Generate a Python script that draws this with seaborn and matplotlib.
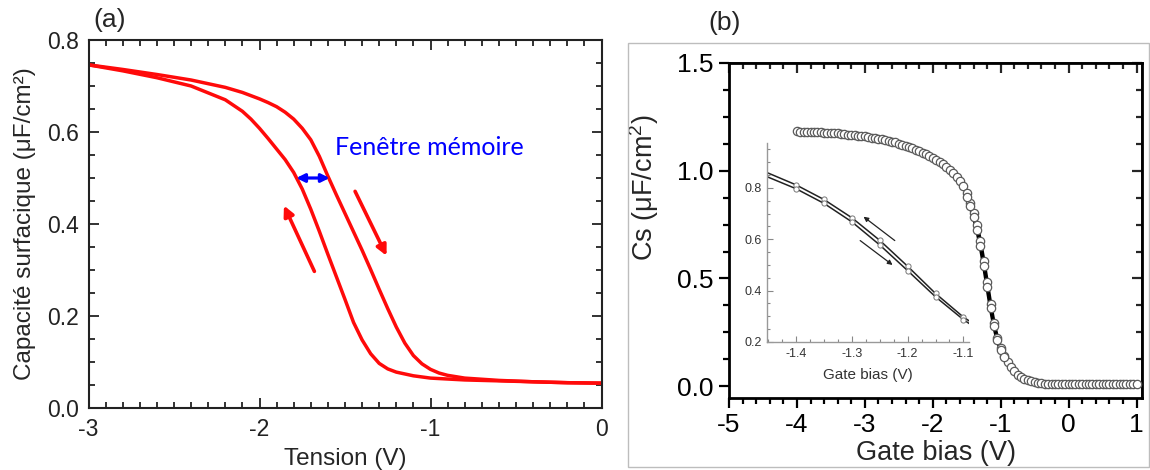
import numpy as np
import pandas as pd
import matplotlib
matplotlib.use("Agg")
import matplotlib.pyplot as plt
import seaborn as sns
from matplotlib.ticker import MultipleLocator
from matplotlib.patches import Rectangle

# ---- (a) hysteresis C-V : aller (-3 -> 0) et retour (0 -> -3)
tension_aller = [-3.0, -2.8, -2.6, -2.4, -2.2, -2.1, -2.0, -1.95, -1.9, -1.85, -1.8, -1.75,
                 -1.7, -1.65, -1.6, -1.55, -1.5, -1.45, -1.4, -1.35, -1.3, -1.25, -1.2,
                 -1.15, -1.1, -1.05, -1.0, -0.95, -0.9, -0.8, -0.6, -0.4, -0.2, 0.0]
cap_aller = [0.746, 0.736, 0.725, 0.713, 0.697, 0.686, 0.672, 0.664, 0.655, 0.643, 0.628, 0.608,
             0.583, 0.547, 0.504, 0.463, 0.423, 0.383, 0.343, 0.301, 0.258, 0.216, 0.176,
             0.141, 0.114, 0.096, 0.084, 0.076, 0.071, 0.065, 0.060, 0.057, 0.055, 0.054]
tension_retour = [0.0, -0.2, -0.4, -0.6, -0.8, -1.0, -1.1, -1.2, -1.25, -1.3, -1.35, -1.4,
                  -1.45, -1.5, -1.55, -1.6, -1.65, -1.7, -1.75, -1.8, -1.85, -1.9, -1.95,
                  -2.0, -2.05, -2.1, -2.2, -2.4, -2.6, -2.8, -3.0]
cap_retour = [0.054, 0.055, 0.057, 0.059, 0.061, 0.065, 0.070, 0.078, 0.085, 0.097, 0.118, 0.148,
              0.186, 0.236, 0.285, 0.334, 0.384, 0.432, 0.476, 0.512, 0.540, 0.563, 0.586,
              0.608, 0.628, 0.645, 0.670, 0.700, 0.718, 0.733, 0.746]

# ---- (b) Cs vs gate bias, balayage complet puis retour dans la zone de pente
gate_bias = [-4.00, -3.95, -3.90, -3.85, -3.80, -3.75, -3.70, -3.65, -3.60, -3.55,
             -3.50, -3.45, -3.40, -3.35, -3.30, -3.25, -3.20, -3.15, -3.10, -3.05,
             -3.00, -2.95, -2.90, -2.85, -2.80, -2.75, -2.70, -2.65, -2.60, -2.55,
             -2.50, -2.45, -2.40, -2.35, -2.30, -2.25, -2.20, -2.15, -2.10, -2.05,
             -2.00, -1.95, -1.90, -1.85, -1.80, -1.75, -1.70, -1.65, -1.60, -1.55,
             -1.50, -1.45, -1.40, -1.35, -1.30, -1.25, -1.20, -1.15, -1.10, -1.05,
             -1.00, -0.95, -0.90, -0.85, -0.80, -0.75, -0.70, -0.65, -0.60, -0.55,
             -0.50, -0.45, -0.40, -0.35, -0.30, -0.25, -0.20, -0.15, -0.10, -0.05,
             0.00, 0.05, 0.10, 0.15, 0.20, 0.25, 0.30, 0.35, 0.40, 0.45,
             0.50, 0.55, 0.60, 0.65, 0.70, 0.75, 0.80, 0.85, 0.90, 0.95, 1.00]
cs_sweep = [1.183, 1.182, 1.182, 1.181, 1.180, 1.180, 1.179, 1.178, 1.177, 1.176,
            1.175, 1.174, 1.173, 1.171, 1.170, 1.168, 1.167, 1.165, 1.163, 1.161,
            1.159, 1.157, 1.154, 1.152, 1.149, 1.146, 1.142, 1.139, 1.135, 1.131,
            1.126, 1.121, 1.116, 1.110, 1.104, 1.098, 1.091, 1.084, 1.076, 1.068,
            1.059, 1.050, 1.040, 1.029, 1.017, 1.004, 0.989, 0.972, 0.953, 0.928,
            0.895, 0.852, 0.803, 0.748, 0.672, 0.582, 0.482, 0.382, 0.292, 0.224,
            0.176, 0.140, 0.112, 0.088, 0.069, 0.054, 0.043, 0.034, 0.027, 0.022,
            0.018, 0.015, 0.013, 0.012, 0.011, 0.010, 0.010, 0.010, 0.009, 0.009,
            0.009, 0.009, 0.009, 0.009, 0.009, 0.009, 0.009, 0.009, 0.008, 0.008,
            0.008, 0.008, 0.008, 0.008, 0.008, 0.008, 0.008, 0.008, 0.008, 0.008, 0.008]
gate_bias_back = [-1.50, -1.45, -1.40, -1.35, -1.30, -1.25, -1.20, -1.15, -1.10, -1.05, -1.00, -0.95]
cs_back = [0.880, 0.835, 0.785, 0.725, 0.650, 0.560, 0.460, 0.362, 0.278, 0.212, 0.168, 0.134]

# ---- (b) encart : zoom sur la zone de pente
inset_bias = [-1.50, -1.45, -1.40, -1.35, -1.30, -1.25, -1.20, -1.15, -1.10, -1.05]
inset_up = [0.900, 0.858, 0.812, 0.755, 0.684, 0.596, 0.495, 0.389, 0.297, 0.225]
inset_down = [0.884, 0.842, 0.797, 0.740, 0.668, 0.578, 0.478, 0.376, 0.287, 0.215]

sns.set_theme(style="ticks")
plt.rcParams["font.family"] = ["Liberation Sans", "DejaVu Sans"]
plt.rcParams["mathtext.fontset"] = "custom"
plt.rcParams["mathtext.rm"] = "Liberation Sans"
plt.rcParams["mathtext.it"] = "Liberation Sans:italic"

fig = plt.figure(figsize=(11.5, 4.7), dpi=100)
RED = "#ff0a0a"

# ================= panel (a) =================
axa = fig.add_axes([88.5 / 1150, 62 / 470, 513 / 1150, 368 / 470])
df_a = pd.concat([
    pd.DataFrame({"tension": tension_aller, "cap": cap_aller, "sweep": "aller"}),
    pd.DataFrame({"tension": tension_retour, "cap": cap_retour, "sweep": "retour"}),
])
sns.lineplot(data=df_a, x="tension", y="cap", hue="sweep", palette=[RED, RED],
             estimator=None, sort=False, linewidth=2.5, legend=False, ax=axa)
axa.set_xlim(-3, 0)
axa.set_ylim(0, 0.8)
axa.xaxis.set_minor_locator(MultipleLocator(0.1))
axa.yaxis.set_minor_locator(MultipleLocator(0.05))
axa.set_xticks([-3, -2, -1, 0], ["-3", "-2", "-1", "0"])
axa.set_yticks([0.0, 0.2, 0.4, 0.6, 0.8], ["0.0", "0.2", "0.4", "0.6", "0.8"])
axa.tick_params(which="both", direction="in", top=True, right=True, colors="#222222",
                labelsize=16.5, width=1.3)
axa.tick_params(which="major", length=7, pad=7)
axa.tick_params(which="minor", length=4)
for s in axa.spines.values():
    s.set_linewidth(1.5)
    s.set_color("#222222")
axa.set_xlabel("Tension (V)", fontsize=17.5, labelpad=5)
axa.set_ylabel("Capacité surfacique (μF/cm²)", fontsize=17.5, labelpad=8)

arrow_kw = dict(arrowstyle="-|>", color=RED, lw=2.6, mutation_scale=15, shrinkA=0, shrinkB=0)
axa.annotate("", xy=(-1.857, 0.44), xytext=(-1.679, 0.297), arrowprops=arrow_kw)
axa.annotate("", xy=(-1.257, 0.331), xytext=(-1.441, 0.471), arrowprops=arrow_kw)
axa.annotate("", xy=(-1.59, 0.50), xytext=(-1.785, 0.50),
             arrowprops=dict(arrowstyle="<|-|>", color="#0000ff", lw=2.3,
                             mutation_scale=12, shrinkA=0, shrinkB=0))
axa.text(-1.557, 0.567, "Fenêtre mémoire", color="#0000ff", fontsize=18,
         family=["Lato", "DejaVu Sans"], va="center", ha="left")
fig.text(93 / 1150, 1 - 20 / 470, "(a)", fontsize=19, va="center", ha="left")

# ================= panel (b) =================
fig.patches.append(Rectangle((628 / 1150, 3 / 470), 521 / 1150, 424 / 470,
                             transform=fig.transFigure, fill=False,
                             edgecolor="#bdbdbd", lw=1.0))
fig.text(725 / 1150, 1 - 23 / 470, "(b)", fontsize=19, va="center", ha="center")

axb = fig.add_axes([729 / 1150, 72 / 470, 413 / 1150, 335 / 470])
df_b = pd.DataFrame({"bias": gate_bias, "cs": cs_sweep})
df_back = pd.DataFrame({"bias": gate_bias_back, "cs": cs_back})
sns.lineplot(data=df_b, x="bias", y="cs", color="black", linewidth=2.6,
             estimator=None, sort=False, ax=axb, zorder=2)
sns.lineplot(data=df_back, x="bias", y="cs", color="black", linewidth=2.6,
             estimator=None, sort=False, ax=axb, zorder=2)
for d in (df_b, df_back):
    sns.scatterplot(data=d, x="bias", y="cs", marker="o", s=36, facecolor="white",
                    edgecolor="#5a5a5a", linewidth=0.9, ax=axb, zorder=3)
axb.set_xlim(-5, 1.08)
axb.set_ylim(-0.055, 1.5)
axb.xaxis.set_minor_locator(MultipleLocator(0.2))
axb.yaxis.set_minor_locator(MultipleLocator(0.125))
axb.set_xticks([-5, -4, -3, -2, -1, 0, 1], ["-5", "-4", "-3", "-2", "-1", "0", "1"])
axb.set_yticks([0.0, 0.5, 1.0, 1.5], ["0.0", "0.5", "1.0", "1.5"])
axb.tick_params(which="both", direction="out", colors="black", labelsize=19, width=1.6)
axb.tick_params(which="major", length=7, pad=4)
axb.tick_params(which="minor", length=4)
for s in axb.spines.values():
    s.set_linewidth(2.0)
    s.set_color("black")
sec_x = axb.secondary_xaxis("top")
sec_x.set_xticks([-5, -4, -3, -2, -1, 0, 1])
sec_x.xaxis.set_minor_locator(MultipleLocator(0.2))
sec_x.tick_params(which="both", direction="in", labeltop=False, width=1.6)
sec_x.tick_params(which="major", length=7)
sec_x.tick_params(which="minor", length=4)
sec_y = axb.secondary_yaxis("right")
sec_y.set_yticks([0.0, 0.5, 1.0, 1.5])
sec_y.yaxis.set_minor_locator(MultipleLocator(0.125))
sec_y.tick_params(which="both", direction="in", labelright=False, width=1.6)
sec_y.tick_params(which="major", length=7)
sec_y.tick_params(which="minor", length=4)
axb.set_xlabel("Gate bias (V)", fontsize=19.5, labelpad=2)
axb.set_ylabel("Cs (μF/cm$^{2}$)", fontsize=19.5, labelpad=6)
axb.yaxis.set_label_coords(-0.165, 0.627)

# ---- inset
axi = fig.add_axes([767 / 1150, 128 / 470, 202 / 1150, 199 / 470])
axi.patch.set_alpha(0)
for vals in (inset_up, inset_down):
    d = pd.DataFrame({"bias": inset_bias, "cs": vals})
    sns.lineplot(data=d, x="bias", y="cs", color="#222222", linewidth=1.1,
                 estimator=None, sort=False, ax=axi, zorder=2)
    sns.scatterplot(data=d.iloc[2:9], x="bias", y="cs", marker="o", s=14,
                    facecolor="white", edgecolor="#777777", linewidth=0.7, ax=axi, zorder=3)
axi.set_xlim(-1.452, -1.09)
axi.set_ylim(0.2, 0.975)
axi.xaxis.set_minor_locator(MultipleLocator(0.025))
axi.yaxis.set_minor_locator(MultipleLocator(0.05))
axi.set_xticks([-1.4, -1.3, -1.2, -1.1], ["-1.4", "-1.3", "-1.2", "-1.1"])
axi.set_yticks([0.2, 0.4, 0.6, 0.8], ["0.2", "0.4", "0.6", "0.8"])
axi.tick_params(which="both", direction="in", colors="#888888", labelcolor="#333333",
                labelsize=9, width=0.8)
axi.tick_params(which="major", length=4, pad=4)
axi.tick_params(which="minor", length=2)
axi.spines["top"].set_visible(False)
axi.spines["right"].set_visible(False)
for side in ("left", "bottom"):
    axi.spines[side].set_color("#999999")
    axi.spines[side].set_linewidth(1.0)
axi.set_xlabel("Gate bias (V)", fontsize=11, color="#333333", labelpad=6)
axi.set_ylabel("")
thin = dict(arrowstyle="-|>", color="#222222", lw=0.9, mutation_scale=7, shrinkA=0, shrinkB=0)
axi.annotate("", xy=(-1.279, 0.688), xytext=(-1.223, 0.595), arrowprops=thin)
axi.annotate("", xy=(-1.227, 0.50), xytext=(-1.285, 0.595), arrowprops=thin)

fig.savefig("out.png", dpi=100)
